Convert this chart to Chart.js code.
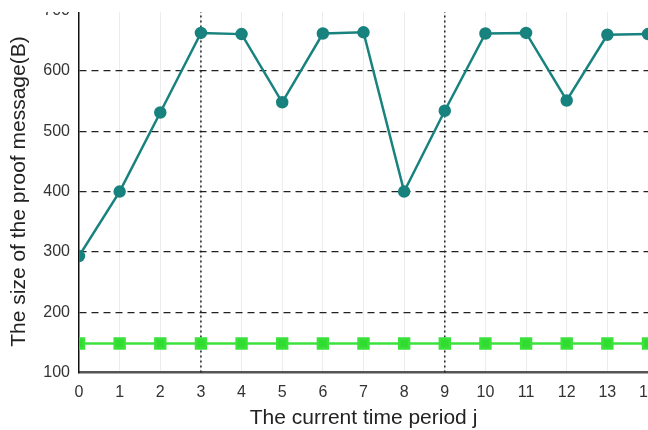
<!DOCTYPE html>
<html>
<head>
<meta charset="utf-8">
<script src="https://cdn.jsdelivr.net/npm/chart.js@4/dist/chart.umd.min.js"></script>
<style>
  html, body { margin: 0; padding: 0; background: #fff; }
  #wrap { position: absolute; left: 0; top: 12px; width: 648px; height: 418px; overflow: hidden; }
  #proofChart { position: absolute; left: 0; top: -20px; }
</style>
</head>
<body>
<div id="wrap"><canvas id="proofChart" width="680" height="440"></canvas></div>
<script>
// values
const periods = ['0', '1', '2', '3', '4', '5', '6', '7', '8', '9', '10', '11', '12', '13', '14'];
const proofSize = [293, 400, 531, 663, 661, 548, 662, 664, 400, 534, 662, 663, 551, 660, 661];
const baseSize = [148, 148, 148, 148, 148, 148, 148, 148, 148, 148, 148, 148, 148, 148, 148];
const markedPeriods = [3, 9];

const font = 'Arial, "Liberation Sans", sans-serif';

// dotted vertical guides at the marked periods
const markLines = {
  id: 'markLines',
  beforeDatasetsDraw(chart) {
    const { ctx, chartArea, scales } = chart;
    ctx.save();
    ctx.strokeStyle = '#222';
    ctx.lineWidth = 1.5;
    ctx.setLineDash([2, 3]);
    markedPeriods.forEach(p => {
      const x = scales.x.getPixelForValue(p);
      ctx.beginPath();
      ctx.moveTo(x, chartArea.top);
      ctx.lineTo(x, chartArea.bottom);
      ctx.stroke();
    });
    ctx.restore();
  }
};

const ctx = document.getElementById('proofChart').getContext('2d');

new Chart(ctx, {
  type: 'line',
  data: {
    labels: periods,
    datasets: [{
      data: proofSize,
      borderColor: '#18827e',
      backgroundColor: '#18827e',
      borderWidth: 2.5,
      pointRadius: 5,
      pointStyle: 'circle',
      clip: { left: 0, top: false, right: false, bottom: false },
    }, {
      data: baseSize,
      borderColor: '#3ce23c',
      backgroundColor: '#2fdc2f',
      borderWidth: 2.5,
      pointRadius: 7,
      pointStyle: 'rect',
      clip: { left: 0, top: false, right: false, bottom: false },
    }]
  },
  options: {
    responsive: false,
    animation: false,
    devicePixelRatio: 1,
    layout: { padding: { top: 18.5, right: 32, bottom: 0, left: 0 } },
    plugins: {
      legend: { display: false },
      tooltip: { enabled: false },
    },
    scales: {
      x: {
        offset: false,
        afterFit(scale) { scale.height = 59.5; },
        grid: {
          drawTicks: false,
          color: ctx => ctx.index === 0 ? 'rgba(0,0,0,0)' : '#ececec',
          lineWidth: 1,
        },
        border: { color: '#555', width: 2.5 },
        ticks: { color: '#333', padding: 10, font: { family: font, size: 16 } },
        title: {
          display: true,
          text: 'The current time period j',
          color: '#222',
          font: { family: font, size: 21 },
          padding: { top: 4, bottom: 1 },
        },
      },
      y: {
        min: 100,
        max: 700,
        afterFit(scale) { scale.width = 79; },
        grid: {
          drawTicks: false,
          color: ctx => (ctx.tick.value === 100 || ctx.tick.value === 700) ? 'rgba(0,0,0,0)' : '#222',
          lineWidth: 1.3,
        },
        border: { color: '#111', width: 1.5, dash: [7, 5] },
        ticks: { stepSize: 100, color: '#333', padding: 9, font: { family: font, size: 16 } },
        title: {
          display: true,
          text: 'The size of the proof message(B)',
          color: '#222',
          font: { family: font, size: 21 },
          padding: { top: 7, bottom: 4 },
        },
      },
    }
  },
  plugins: [markLines]
});
</script>
</body>
</html>
